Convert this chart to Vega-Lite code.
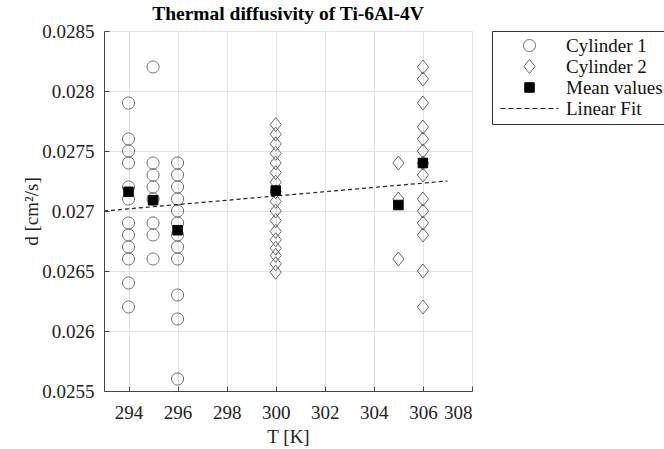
{
  "$schema": "https://vega.github.io/schema/vega-lite/v6.json",
  "autosize": "none",
  "width": 368,
  "height": 360,
  "padding": {"left": 104, "top": 31, "right": 192, "bottom": 58},
  "background": "white",
  "title": {"text": "Thermal diffusivity of Ti-6Al-4V", "font": "Liberation Serif", "fontSize": 19.5, "fontWeight": "bold", "color": "#000", "offset": -2, "anchor": "middle"},
  "config": {
    "view": {"stroke": null},
    "axis": {"labelFont": "Liberation Serif", "labelFontSize": 19, "labelColor": "#222", "titleFont": "Liberation Serif", "titleFontSize": 19, "titleFontWeight": "normal", "titleColor": "#222", "domainColor": "#444", "tickColor": "#444", "gridColor": "#e2e2e2", "tickSize": -5},
    "legend": {"labelFont": "Liberation Serif", "labelFontSize": 19, "labelColor": "#111"}
  },
  "data": {"values": [
    {"T": 294, "d": 0.0279, "series": "Cylinder 1"},
    {"T": 294, "d": 0.0276, "series": "Cylinder 1"},
    {"T": 294, "d": 0.0275, "series": "Cylinder 1"},
    {"T": 294, "d": 0.0274, "series": "Cylinder 1"},
    {"T": 294, "d": 0.0272, "series": "Cylinder 1"},
    {"T": 294, "d": 0.0271, "series": "Cylinder 1"},
    {"T": 294, "d": 0.0269, "series": "Cylinder 1"},
    {"T": 294, "d": 0.0268, "series": "Cylinder 1"},
    {"T": 294, "d": 0.0267, "series": "Cylinder 1"},
    {"T": 294, "d": 0.0266, "series": "Cylinder 1"},
    {"T": 294, "d": 0.0264, "series": "Cylinder 1"},
    {"T": 294, "d": 0.0262, "series": "Cylinder 1"},
    {"T": 295, "d": 0.0282, "series": "Cylinder 1"},
    {"T": 295, "d": 0.0274, "series": "Cylinder 1"},
    {"T": 295, "d": 0.0273, "series": "Cylinder 1"},
    {"T": 295, "d": 0.0272, "series": "Cylinder 1"},
    {"T": 295, "d": 0.0271, "series": "Cylinder 1"},
    {"T": 295, "d": 0.0269, "series": "Cylinder 1"},
    {"T": 295, "d": 0.0268, "series": "Cylinder 1"},
    {"T": 295, "d": 0.0266, "series": "Cylinder 1"},
    {"T": 296, "d": 0.0274, "series": "Cylinder 1"},
    {"T": 296, "d": 0.0273, "series": "Cylinder 1"},
    {"T": 296, "d": 0.0272, "series": "Cylinder 1"},
    {"T": 296, "d": 0.0271, "series": "Cylinder 1"},
    {"T": 296, "d": 0.0270, "series": "Cylinder 1"},
    {"T": 296, "d": 0.0269, "series": "Cylinder 1"},
    {"T": 296, "d": 0.0268, "series": "Cylinder 1"},
    {"T": 296, "d": 0.0267, "series": "Cylinder 1"},
    {"T": 296, "d": 0.0266, "series": "Cylinder 1"},
    {"T": 296, "d": 0.0263, "series": "Cylinder 1"},
    {"T": 296, "d": 0.0261, "series": "Cylinder 1"},
    {"T": 296, "d": 0.0256, "series": "Cylinder 1"},
    {"T": 300, "d": 0.02772, "series": "Cylinder 2"},
    {"T": 300, "d": 0.02764, "series": "Cylinder 2"},
    {"T": 300, "d": 0.02756, "series": "Cylinder 2"},
    {"T": 300, "d": 0.02748, "series": "Cylinder 2"},
    {"T": 300, "d": 0.0274, "series": "Cylinder 2"},
    {"T": 300, "d": 0.02732, "series": "Cylinder 2"},
    {"T": 300, "d": 0.02724, "series": "Cylinder 2"},
    {"T": 300, "d": 0.02716, "series": "Cylinder 2"},
    {"T": 300, "d": 0.02708, "series": "Cylinder 2"},
    {"T": 300, "d": 0.027, "series": "Cylinder 2"},
    {"T": 300, "d": 0.02692, "series": "Cylinder 2"},
    {"T": 300, "d": 0.02683, "series": "Cylinder 2"},
    {"T": 300, "d": 0.02676, "series": "Cylinder 2"},
    {"T": 300, "d": 0.02669, "series": "Cylinder 2"},
    {"T": 300, "d": 0.02663, "series": "Cylinder 2"},
    {"T": 300, "d": 0.02656, "series": "Cylinder 2"},
    {"T": 300, "d": 0.02649, "series": "Cylinder 2"},
    {"T": 305, "d": 0.0274, "series": "Cylinder 2"},
    {"T": 305, "d": 0.0271, "series": "Cylinder 2"},
    {"T": 305, "d": 0.0266, "series": "Cylinder 2"},
    {"T": 306, "d": 0.0282, "series": "Cylinder 2"},
    {"T": 306, "d": 0.0281, "series": "Cylinder 2"},
    {"T": 306, "d": 0.0279, "series": "Cylinder 2"},
    {"T": 306, "d": 0.0277, "series": "Cylinder 2"},
    {"T": 306, "d": 0.0276, "series": "Cylinder 2"},
    {"T": 306, "d": 0.0275, "series": "Cylinder 2"},
    {"T": 306, "d": 0.0274, "series": "Cylinder 2"},
    {"T": 306, "d": 0.0273, "series": "Cylinder 2"},
    {"T": 306, "d": 0.0271, "series": "Cylinder 2"},
    {"T": 306, "d": 0.0270, "series": "Cylinder 2"},
    {"T": 306, "d": 0.0269, "series": "Cylinder 2"},
    {"T": 306, "d": 0.0268, "series": "Cylinder 2"},
    {"T": 306, "d": 0.0265, "series": "Cylinder 2"},
    {"T": 306, "d": 0.0262, "series": "Cylinder 2"},
    {"T": 293, "d": 0.02700, "series": "Linear Fit"},
    {"T": 307, "d": 0.02725, "series": "Linear Fit"},
    {"T": 294, "d": 0.02716, "series": "Mean values"},
    {"T": 295, "d": 0.02709, "series": "Mean values"},
    {"T": 296, "d": 0.02684, "series": "Mean values"},
    {"T": 300, "d": 0.02717, "series": "Mean values"},
    {"T": 305, "d": 0.02705, "series": "Mean values"},
    {"T": 306, "d": 0.0274, "series": "Mean values"}
  ]},
  "encoding": {
    "x": {"field": "T", "type": "quantitative", "scale": {"domain": [293, 308], "nice": false, "zero": false}, "axis": {"values": [294, 296, 298, 300, 302, 304, 306, 308], "title": "T [K]", "titlePadding": 5, "labelPadding": 17}},
    "y": {"field": "d", "type": "quantitative", "scale": {"domain": [0.0255, 0.0285], "nice": false, "zero": false}, "axis": {"values": [0.0255, 0.026, 0.0265, 0.027, 0.0275, 0.028, 0.0285], "format": ".4~f", "title": "d [cm²/s]", "titlePadding": 0, "labelPadding": 15}}
  },
  "layer": [
    {
      "transform": [{"filter": "datum.series === 'Cylinder 1' || datum.series === 'Cylinder 2'"}],
      "mark": {"type": "point", "filled": true, "strokeWidth": 1, "opacity": 1, "size": 196},
      "encoding": {
        "shape": {"field": "series", "type": "nominal", "scale": {"domain": ["Cylinder 1", "Cylinder 2", "Mean values", "Linear Fit"], "range": ["M-0.86,0A0.86,0.86 0 1,0 0.86,0A0.86,0.86 0 1,0 -0.86,0Z", "M0,-1L0.8,0L0,1L-0.8,0Z", "M-0.68,-0.68H0.68V0.68H-0.68Z", "M-4.14,0H-3.43M-3.0,0H-2.29M-1.86,0H-1.14M-0.71,0H0M0.43,0H1.14M1.57,0H2.29M2.71,0H3.43M3.86,0H4.14"]}, "legend": {"title": null, "orient": "right", "offset": 20, "padding": 5, "strokeColor": "#333", "fillColor": "white", "symbolSize": 196, "symbolOffset": 23, "labelOffset": 27, "rowPadding": 1, "symbolStrokeWidth": 1}},
        "fill": {"field": "series", "type": "nominal", "scale": {"domain": ["Cylinder 1", "Cylinder 2", "Mean values", "Linear Fit"], "range": ["transparent", "transparent", "#000000", "transparent"]}},
        "stroke": {"field": "series", "type": "nominal", "scale": {"domain": ["Cylinder 1", "Cylinder 2", "Mean values", "Linear Fit"], "range": ["#6a6a6a", "#6a6a6a", "#000000", "#222222"]}}
      }
    },
    {
      "transform": [{"filter": "datum.series === 'Linear Fit'"}],
      "mark": {"type": "line", "color": "#222", "strokeWidth": 1.2, "strokeDash": [4, 3]},
      "encoding": {}
    },
    {
      "transform": [{"filter": "datum.series === 'Mean values'"}],
      "mark": {"type": "point", "filled": true, "strokeWidth": 1, "opacity": 1, "size": 196},
      "encoding": {
        "shape": {"field": "series", "type": "nominal"},
        "fill": {"field": "series", "type": "nominal"},
        "stroke": {"field": "series", "type": "nominal"}
      }
    }
  ]
}
